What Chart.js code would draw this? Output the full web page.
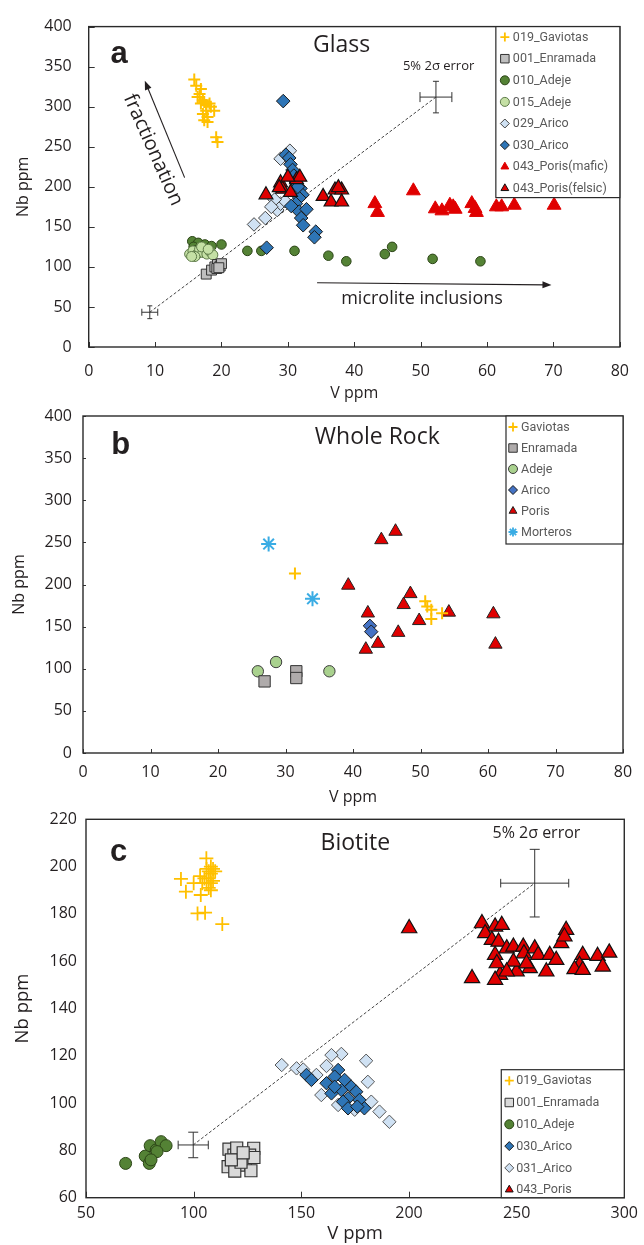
<!DOCTYPE html>
<html>
<head>
<meta charset="utf-8">
<script src="https://cdn.jsdelivr.net/npm/chart.js@4.4.0/dist/chart.umd.min.js"></script>
<style>
  body { margin: 0; background: #fff; width: 644px; height: 1245px; position: relative; overflow: hidden; }
  canvas { position: absolute; left: 0; }
</style>
</head>
<body>
<canvas id="glass" width="644" height="403" style="top:0"></canvas>
<canvas id="wholeRock" width="644" height="412" style="top:395px"></canvas>
<canvas id="biotite" width="644" height="445" style="top:800px"></canvas>
<script>
// ---- panel a: glass, [V ppm, Nb ppm]
const glassGaviotas = [[15.9,334],[16.2,326],[16.9,322],[16.7,316],[16.4,312],[17.2,308],[16.9,304],[17.4,306],[17.7,302],[18.2,304],[18.4,300],[18.9,295],[17.7,295],[17.2,291],[17.9,287],[17.4,283],[17.9,281],[19.2,262],[19.4,256]];
const glassEnramada = [[17.7,91],[18.5,96],[19.0,100],[19.4,103],[19.8,101],[19.3,98],[20.0,104],[19.6,99]];
const glassAdeje010 = [[15.6,132],[16.5,130],[17.5,128],[15.8,125],[18.5,126],[16.2,121],[20.0,128],[23.9,120],[26.0,120],[31.0,120],[36.1,114],[38.8,107],[44.6,116],[45.7,125],[51.8,110],[59.0,107]];
const glassAdeje015 = [[15.2,116],[15.7,120],[16.2,115],[16.7,122],[17.2,118],[17.8,116],[18.3,119],[18.7,115],[17.0,125],[16.0,113],[18.0,122],[15.5,113]];
const glassArico029 = [[24.9,153],[26.6,161],[28.4,171],[28.9,179],[29.6,182],[28.0,184],[27.5,175],[28.9,235],[30.3,245]];
const glassArico030 = [[29.3,307],[29.7,240],[30.2,236],[30.4,228],[30.7,221],[31.2,206],[31.9,198],[32.2,190],[31.7,186],[31.2,179],[31.7,169],[32.8,172],[32.0,161],[32.3,152],[34.2,144],[34.0,137],[26.8,124],[31.5,200],[30.9,214],[30.5,176]];
const glassPorisMafic = [[43.1,179],[43.5,168],[48.9,195],[52.2,172.5],[53.2,170],[54.4,177],[55.2,172],[54.9,175],[57.7,179],[58.4,168],[58.2,173],[61.4,175],[62.2,175],[64.1,177],[70.1,177]];
const glassPorisFelsic = [[26.7,190],[28.9,205],[29.2,197],[30.4,193],[31.3,209],[31.8,212],[28.7,199],[30.0,212],[35.3,188],[36.5,181],[37.1,196],[38.1,196],[38.1,181],[37.6,199]];

// ---- panel b: whole rock
const rockGaviotas = [[31.4,213],[50.7,180],[51.0,174],[51.6,170],[53.2,166],[51.6,159]];
const rockEnramada = [[26.9,85],[31.6,97],[31.6,89]];
const rockAdeje = [[25.9,97],[28.6,108],[36.5,97]];
const rockArico = [[42.5,151],[42.7,144]];
const rockPoris = [[39.3,199],[46.3,263],[44.2,253],[48.5,189],[47.5,176],[42.2,166],[49.8,157],[54.2,167],[60.8,165],[61.1,129],[46.7,143],[43.7,130],[41.9,123]];
const rockMorteros = [[27.5,248],[34.0,183]];

// ---- panel c: biotite
const bioGaviotas = [[105.9,203.5],[94.1,194.8],[96.4,189.4],[100,193],[103,196],[103.3,188],[101.8,180.2],[105.3,180.5],[113.3,175.7],[106,199],[107,198],[108,197],[109,199],[107,195],[108,193],[106,193],[109,194],[107,191],[108,190],[105,195],[104,193],[110,198],[108,200]];
const bioEnramada = [[116.4,80.5],[118.7,78],[120,81],[127.9,80.9],[126,78],[124,76],[121,73.8],[116,73.1],[126.6,71.4],[119.1,71.2],[122,75],[128,77],[117.5,76],[123,79]];
const bioAdeje = [[68.4,74.5],[77.5,77.6],[79.4,74.5],[79.8,82],[82.6,80.2],[84.9,83.7],[87.2,82],[83,79.5],[80.2,76]];
const bioArico030 = [[152.4,111.9],[154.7,109.8],[161.7,108.4],[167.1,114],[165.5,111.2],[170.1,109.8],[168.6,105.5],[173.2,106.9],[175.5,104.8],[171.7,102],[169.4,100.6],[171.7,97.8],[177,101.3],[179.3,97.8],[164,104.1],[165.5,106.9],[176,98.5]];
const bioArico031 = [[140.9,116.1],[168.6,120.8],[164,120.3],[180.1,117.9],[161.7,115.7],[147.8,114.7],[150.9,114.2],[157,111.9],[159.3,103.4],[180.9,109],[182.5,100.6],[186.3,96.4],[190.9,92.1],[167.1,99.2],[174.8,97.2]];
const bioPoris = [[233.9,176],[240,174.6],[243.1,175.3],[235.4,171.8],[238.5,169],[241.6,168.2],[240,162.6],[245.4,165.4],[248.5,166.1],[253.1,166.1],[253.4,163.3],[258.4,165.4],[260,162.6],[265.4,162.6],[268.4,160.5],[270.7,167.6],[273,173.2],[272.2,170.4],[280.7,162.6],[287.6,162.2],[293,163.6],[290,157.7],[279.2,158.4],[276.9,156.6],[280.7,156.3],[263.8,155.6],[256.1,157],[250,155.6],[242.3,154.2],[240,152.1],[229.3,152.8],[240.8,159.1],[248.5,159.8],[254.6,159],[245.4,155.6],[200.1,173.9]];

const FONT = '"Open Sans", sans-serif';
const INK = '#231f20';
const RED = '#e00000';
const GOLD = '#ffc000';

function toPoints(pairs) {
  return pairs.map(p => ({ x: p[0], y: p[1] }));
}

// series listed bottom -> top, later ones drawn over earlier ones
function seriesDatasets(series) {
  return series.map((s, i) => ({
    label: s.label,
    data: toPoints(s.data),
    pointStyle: s.style,
    pointRadius: s.radius,
    pointBackgroundColor: s.fill,
    pointBorderColor: s.stroke,
    pointBorderWidth: s.width,
    showLine: false,
    order: 10 + series.length - i
  }));
}

function errorCross(e) {
  const bar = (pts, rot, cap) => ({
    data: toPoints(pts), showLine: true, borderColor: '#333', borderWidth: 1,
    pointStyle: 'line', pointRotation: rot, pointRadius: cap,
    pointBorderColor: '#333', pointBorderWidth: 1, order: 0
  });
  return [
    bar([[e.x - e.dx, e.y], [e.x + e.dx, e.y]], 90, e.capX),
    bar([[e.x, e.y - e.dy], [e.x, e.y + e.dy]], 0, e.capY)
  ];
}

function guideLine(a, b) {
  return {
    data: toPoints([a, b]), showLine: true, borderColor: '#444', borderWidth: 1,
    borderDash: [3, 2], pointRadius: 0, order: 99
  };
}

const framePlugin = {
  id: 'frame',
  afterDatasetsDraw(chart, args, opts) {
    const { ctx, chartArea: a, scales: { x, y } } = chart;
    ctx.save();
    ctx.strokeStyle = '#333';
    ctx.lineWidth = 1;
    // tick marks point inward
    if (opts.tickX) {
      x.ticks.forEach(t => {
        const px = Math.round(x.getPixelForValue(t.value)) + 0.5;
        ctx.beginPath(); ctx.moveTo(px, a.bottom); ctx.lineTo(px, a.bottom - opts.tickX); ctx.stroke();
      });
    }
    if (opts.tickY) {
      y.ticks.forEach(t => {
        const py = Math.round(y.getPixelForValue(t.value)) + 0.5;
        ctx.beginPath(); ctx.moveTo(a.left, py); ctx.lineTo(a.left + opts.tickY, py); ctx.stroke();
      });
    }
    ctx.lineWidth = 1.4;
    ctx.strokeStyle = '#2a2a2a';
    ctx.strokeRect(a.left, a.top, a.right - a.left, a.bottom - a.top);

    // notes and arrows
    (opts.notes || []).forEach(n => {
      const px = x.getPixelForValue(n.x), py = y.getPixelForValue(n.y);
      ctx.save();
      ctx.translate(px, py);
      if (n.rotate) ctx.rotate(n.rotate * Math.PI / 180);
      ctx.fillStyle = INK;
      ctx.font = n.font;
      ctx.textAlign = 'center';
      ctx.textBaseline = 'middle';
      ctx.fillText(n.text, 0, 0);
      ctx.restore();
    });
    (opts.arrows || []).forEach(ar => {
      const x0 = x.getPixelForValue(ar.from[0]), y0 = y.getPixelForValue(ar.from[1]);
      const x1 = x.getPixelForValue(ar.to[0]), y1 = y.getPixelForValue(ar.to[1]);
      const ang = Math.atan2(y1 - y0, x1 - x0);
      ctx.strokeStyle = INK; ctx.fillStyle = INK; ctx.lineWidth = 1.1;
      ctx.beginPath(); ctx.moveTo(x0, y0); ctx.lineTo(x1 - 6 * Math.cos(ang), y1 - 6 * Math.sin(ang)); ctx.stroke();
      ctx.beginPath();
      ctx.moveTo(x1, y1);
      ctx.lineTo(x1 - 9 * Math.cos(ang) + 3.5 * Math.sin(ang), y1 - 9 * Math.sin(ang) - 3.5 * Math.cos(ang));
      ctx.lineTo(x1 - 9 * Math.cos(ang) - 3.5 * Math.sin(ang), y1 - 9 * Math.sin(ang) + 3.5 * Math.cos(ang));
      ctx.closePath(); ctx.fill();
    });

    // boxed legend inside the plot
    const lg = opts.legend;
    if (lg) {
      const bx = a.right - lg.width;
      const by = lg.anchor === 'top' ? a.top : a.bottom - lg.height;
      ctx.fillStyle = '#fff';
      ctx.fillRect(bx, by, lg.width, lg.height);
      ctx.strokeStyle = '#2a2a2a'; ctx.lineWidth = 1.2;
      ctx.strokeRect(bx, by, lg.width, lg.height);
      lg.items.forEach((s, i) => {
        const cy = by + lg.rowStart + i * lg.rowGap;
        ctx.fillStyle = s.fill;
        ctx.strokeStyle = s.stroke;
        ctx.lineWidth = s.style === 'cross' || s.style === 'star' ? 1.8 : 1;
        const r = s.style === 'rect' ? lg.radius + 1.5 : lg.radius;
        Chart.helpers.drawPoint(ctx, { pointStyle: s.style, radius: r, rotation: 0, borderWidth: ctx.lineWidth }, bx + lg.marker, cy);
        ctx.fillStyle = '#595959';
        ctx.font = lg.font;
        ctx.textAlign = 'left';
        ctx.textBaseline = 'middle';
        ctx.fillText(s.label, bx + lg.text, cy + 0.5);
      });
    }
    ctx.restore();
  }
};

function makePanel(id, p) {
  const axis = (min, max, step, title, titleSize, tickPad, titlePad, fit) => ({
    type: 'linear', min: min, max: max,
    ticks: { stepSize: step, color: INK, padding: tickPad, font: { family: FONT, size: 16 }, maxRotation: 0, autoSkip: false },
    grid: { display: false, drawTicks: false },
    border: { display: false },
    title: { display: true, text: title, color: INK, font: { family: FONT, size: titleSize }, padding: titlePad },
    afterFit: fit
  });
  return new Chart(document.getElementById(id), {
    type: 'scatter',
    data: { datasets: seriesDatasets(p.series).concat(p.extra) },
    options: {
      responsive: false,
      animation: false,
      events: [],
      layout: { padding: { left: 0, right: p.padRight, top: p.padTop, bottom: 0 } },
      scales: {
        x: axis(p.x[0], p.x[1], p.x[2], 'V ppm', p.titleSize, p.xTickPad, { top: 0, bottom: 0 }, s => { s.height = p.xHeight; }),
        y: axis(p.y[0], p.y[1], p.y[2], 'Nb ppm', p.titleSize, p.yTickPad, { top: p.yTitlePad, bottom: 0 }, s => { s.width = p.yWidth; })
      },
      plugins: {
        legend: { display: false },
        tooltip: { enabled: false },
        frame: p.frame
      }
    },
    plugins: [framePlugin]
  });
}

// ---------- a: Glass
const glassStyles = {
  gav: { label: '019_Gaviotas', data: glassGaviotas, style: 'cross', radius: 6, fill: GOLD, stroke: GOLD, width: 2 },
  enr: { label: '001_Enramada', data: glassEnramada, style: 'rect', radius: 7, fill: '#bfbfbf', stroke: '#333', width: 1 },
  a10: { label: '010_Adeje', data: glassAdeje010, style: 'circle', radius: 4.8, fill: '#548235', stroke: '#2c4517', width: 1 },
  a15: { label: '015_Adeje', data: glassAdeje015, style: 'circle', radius: 5, fill: '#c5e0a5', stroke: '#5d7a48', width: 1 },
  r29: { label: '029_Arico', data: glassArico029, style: 'rectRot', radius: 6.8, fill: '#cfe1f3', stroke: '#444', width: 1 },
  r30: { label: '030_Arico', data: glassArico030, style: 'rectRot', radius: 6.8, fill: '#2e75b6', stroke: '#1a1a1a', width: 1 },
  pm: { label: '043_Poris(mafic)', data: glassPorisMafic, style: 'triangle', radius: 8, fill: RED, stroke: RED, width: 1 },
  pf: { label: '043_Poris(felsic)', data: glassPorisFelsic, style: 'triangle', radius: 8, fill: RED, stroke: '#111', width: 1.2 }
};
const gs = glassStyles;
makePanel('glass', {
  series: [gs.a10, gs.a15, gs.enr, gs.r29, gs.r30, gs.pm, gs.pf, gs.gav],
  extra: [guideLine([9.2, 43.4], [52.3, 312])].concat(
    errorCross({ x: 9.2, y: 43.4, dx: 1.2, dy: 8, capX: 3.5, capY: 2.5 }),
    errorCross({ x: 52.3, y: 312, dx: 2.4, dy: 19.7, capX: 5, capY: 3 })),
  x: [0, 80, 10], y: [0, 400, 50],
  padTop: 21.7, padRight: 22, xHeight: 56, yWidth: 88.7,
  xTickPad: 15, yTickPad: 17, yTitlePad: 14, titleSize: 16,
  frame: {
    tickX: 5, tickY: 6,
    notes: [
      { text: 'Glass', x: 38.1, y: 376, font: '23px ' + FONT },
      { text: 'a', x: 4.6, y: 365, font: 'bold 31px "Liberation Sans", Arial, sans-serif' },
      { text: '5% 2σ error', x: 52.7, y: 350, font: '13px ' + FONT },
      { text: 'fractionation', x: 9.7, y: 246, rotate: 66, font: '20px ' + FONT },
      { text: 'microlite inclusions', x: 50.2, y: 59.5, font: '18px ' + FONT }
    ],
    arrows: [
      { from: [14.45, 211.5], to: [8.45, 332.4] },
      { from: [34.4, 80.3], to: [69.7, 77.5] }
    ],
    legend: {
      anchor: 'top', width: 124, height: 171, rowStart: 10.5, rowGap: 21.6, marker: 9, text: 17,
      radius: 4.5, font: '12.5px Roboto, sans-serif',
      items: [gs.gav, gs.enr, gs.a10, gs.a15, gs.r29, gs.r30, gs.pm, gs.pf]
    }
  }
});

// ---------- b: Whole Rock
const rockStyles = {
  gav: { label: 'Gaviotas', data: rockGaviotas, style: 'cross', radius: 6, fill: GOLD, stroke: GOLD, width: 2 },
  enr: { label: 'Enramada', data: rockEnramada, style: 'rect', radius: 8, fill: '#afabab', stroke: '#333', width: 1 },
  ade: { label: 'Adeje', data: rockAdeje, style: 'circle', radius: 5.7, fill: '#a9d18e', stroke: '#3d3d3d', width: 1 },
  ari: { label: 'Arico', data: rockArico, style: 'rectRot', radius: 6.7, fill: '#4472c4', stroke: '#1a1a1a', width: 1 },
  por: { label: 'Poris', data: rockPoris, style: 'triangle', radius: 7.7, fill: RED, stroke: '#222', width: 1 },
  mor: { label: 'Morteros', data: rockMorteros, style: 'star', radius: 7.5, fill: '#3aace4', stroke: '#3aace4', width: 2 }
};
const rs = rockStyles;
makePanel('wholeRock', {
  series: [rs.ade, rs.enr, rs.ari, rs.por, rs.gav, rs.mor],
  extra: [],
  x: [0, 80, 10], y: [0, 400, 50],
  padTop: 21, padRight: 21, xHeight: 54, yWidth: 83,
  xTickPad: 10, yTickPad: 11, yTitlePad: 10, titleSize: 16,
  frame: {
    tickX: 4, tickY: 3,
    notes: [
      { text: 'Whole Rock', x: 43.6, y: 374, font: '23px ' + FONT },
      { text: 'b', x: 5.6, y: 365, font: 'bold 31px "Liberation Sans", Arial, sans-serif' }
    ],
    legend: {
      anchor: 'top', width: 117, height: 128, rowStart: 11, rowGap: 21, marker: 7, text: 15,
      radius: 4.5, font: '12.5px Roboto, sans-serif',
      items: [rs.gav, rs.enr, rs.ade, rs.ari, rs.por, rs.mor]
    }
  }
});

// ---------- c: Biotite
const bioStyles = {
  gav: { label: '019_Gaviotas', data: bioGaviotas, style: 'cross', radius: 7, fill: GOLD, stroke: GOLD, width: 1.8 },
  enr: { label: '001_Enramada', data: bioEnramada, style: 'rect', radius: 8.5, fill: '#d9d9d9', stroke: '#333', width: 1.2 },
  ade: { label: '010_Adeje', data: bioAdeje, style: 'circle', radius: 6, fill: '#548235', stroke: '#2c4517', width: 1 },
  r30: { label: '030_Arico', data: bioArico030, style: 'rectRot', radius: 6.7, fill: '#2e75b6', stroke: '#1a1a1a', width: 1 },
  r31: { label: '031_Arico', data: bioArico031, style: 'rectRot', radius: 6.7, fill: '#cfe1f3', stroke: '#555', width: 1 },
  por: { label: '043_Poris', data: bioPoris, style: 'triangle', radius: 8.8, fill: RED, stroke: '#111', width: 1.2 }
};
const bs = bioStyles;
makePanel('biotite', {
  series: [bs.ade, bs.enr, bs.r31, bs.r30, bs.por, bs.gav],
  extra: [guideLine([99.8, 82.3], [258.4, 193])].concat(
    errorCross({ x: 99.8, y: 82.3, dx: 7, dy: 5.4, capX: 4.3, capY: 5 }),
    errorCross({ x: 258.4, y: 193, dx: 15.8, dy: 14.3, capX: 4.3, capY: 5 })),
  x: [50, 300, 50], y: [60, 220, 20],
  padTop: 19.3, padRight: 16, xHeight: 47.3, yWidth: 86,
  xTickPad: 6, yTickPad: 9, yTitlePad: 11.5, titleSize: 18.5,
  frame: {
    tickX: 6, tickY: 0,
    notes: [
      { text: 'Biotite', x: 175.1, y: 209.9, font: '23px ' + FONT },
      { text: 'c', x: 65.2, y: 206.1, font: 'bold 31px "Liberation Sans", Arial, sans-serif' },
      { text: '5% 2σ error', x: 259.2, y: 214.1, font: '16px ' + FONT }
    ],
    legend: {
      anchor: 'bottom', width: 123, height: 128, rowStart: 11, rowGap: 21.8, marker: 8, text: 15,
      radius: 4.5, font: '12.5px Roboto, sans-serif',
      items: [bs.gav, bs.enr, bs.ade, bs.r30, bs.r31, bs.por]
    }
  }
});
</script>
</body>
</html>
